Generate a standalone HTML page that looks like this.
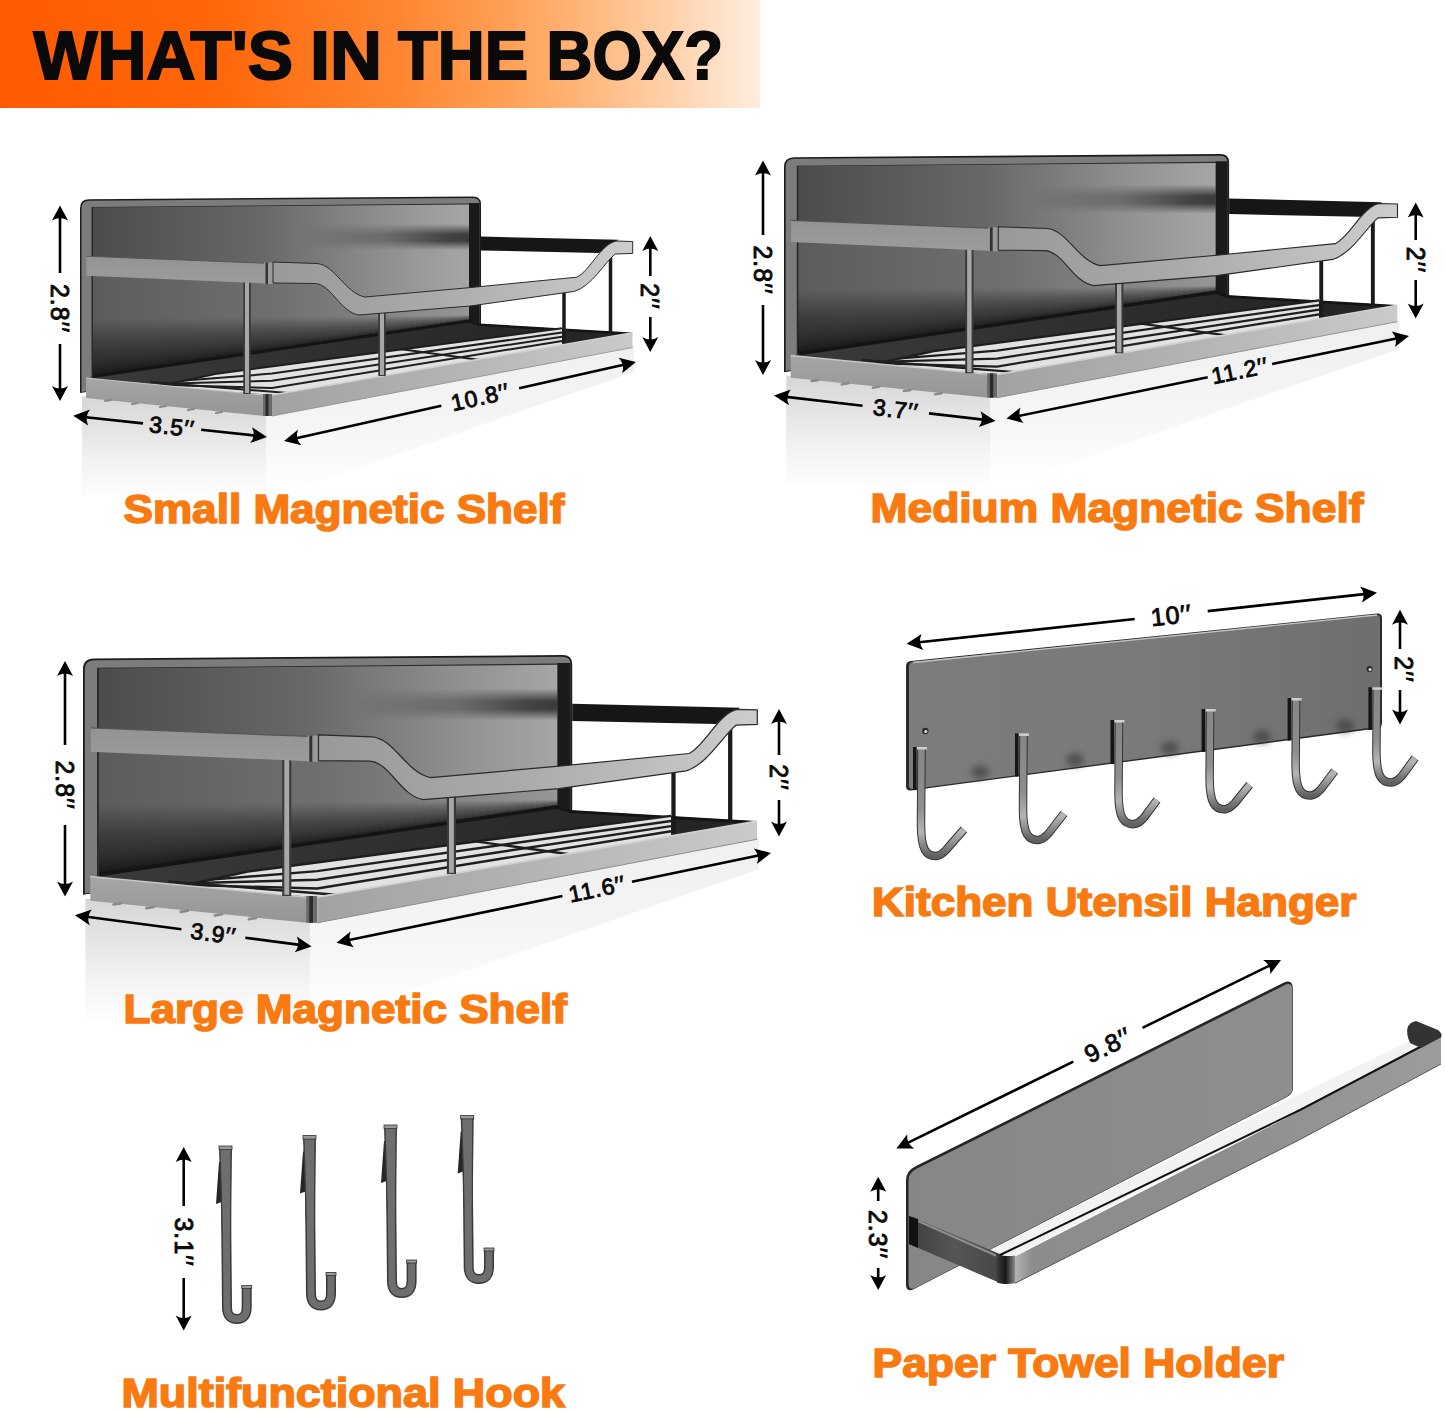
<!DOCTYPE html>
<html><head><meta charset="utf-8">
<style>
html,body{margin:0;padding:0;background:#fff;width:1445px;height:1412px;overflow:hidden}
svg{position:absolute;left:0;top:0;display:block}
.hdr{font-family:"Liberation Sans",sans-serif;font-weight:bold;font-size:68px;fill:#0a0a0a;stroke:#0a0a0a;stroke-width:2px}
.lbl{font-family:"Liberation Sans",sans-serif;font-weight:bold;font-size:41px;fill:#f97a10;stroke:#f97a10;stroke-width:1.6px}
.dim{font-family:"Liberation Sans",sans-serif;font-weight:normal;fill:#0a0a0a;stroke:#0a0a0a;stroke-width:0.9px;letter-spacing:1px}
</style></head>
<body>
<svg width="1445" height="1412" viewBox="0 0 1445 1412">

<defs>
  <linearGradient id="hdr" x1="0" x2="1" y1="0" y2="0">
    <stop offset="0" stop-color="#ff5a00"/>
    <stop offset="0.276" stop-color="#ff6608"/>
    <stop offset="0.526" stop-color="#fe8631"/>
    <stop offset="0.671" stop-color="#ffa156"/>
    <stop offset="0.803" stop-color="#ffbe88"/>
    <stop offset="0.98" stop-color="#fee8d6"/>
    <stop offset="1" stop-color="#feecdf"/>
  </linearGradient>
  <linearGradient id="bpg" x1="93" x2="469" y1="0" y2="0" gradientUnits="userSpaceOnUse">
    <stop offset="0" stop-color="#4c4c4c"/>
    <stop offset="0.45" stop-color="#686868"/>
    <stop offset="0.8" stop-color="#929292"/>
    <stop offset="1" stop-color="#a6a6a6"/>
  </linearGradient>
  <linearGradient id="bpgl" x1="93" x2="469" y1="0" y2="0" gradientUnits="userSpaceOnUse">
    <stop offset="0" stop-color="#5c5c5c"/>
    <stop offset="0.5" stop-color="#707070"/>
    <stop offset="1" stop-color="#969696"/>
  </linearGradient>
  <linearGradient id="shadowband" x1="0" x2="1" y1="0" y2="0">
    <stop offset="0" stop-color="#2a2a2a" stop-opacity="0"/>
    <stop offset="0.5" stop-color="#2a2a2a" stop-opacity="0.8"/>
    <stop offset="1" stop-color="#1e1e1e" stop-opacity="1"/>
  </linearGradient>
  <linearGradient id="trayside" x1="0" x2="0" y1="0" y2="1">
    <stop offset="0" stop-color="#a6a6a6"/>
    <stop offset="1" stop-color="#959595"/>
  </linearGradient>
  <linearGradient id="trayfront" x1="0" x2="1" y1="0" y2="0">
    <stop offset="0" stop-color="#a2a2a2"/>
    <stop offset="0.4" stop-color="#b0b0b0"/>
    <stop offset="1" stop-color="#cacaca"/>
  </linearGradient>
  <linearGradient id="railside" x1="0" x2="0" y1="0" y2="1">
    <stop offset="0" stop-color="#939393"/>
    <stop offset="1" stop-color="#9c9c9c"/>
  </linearGradient>
  <linearGradient id="railfront" x1="0" x2="1" y1="0" y2="0">
    <stop offset="0" stop-color="#999999"/>
    <stop offset="0.45" stop-color="#aaaaaa"/>
    <stop offset="1" stop-color="#cdcdcd"/>
  </linearGradient>
  <linearGradient id="hookg" x1="0" x2="1" y1="0" y2="0">
    <stop offset="0" stop-color="#3a3a3a"/>
    <stop offset="0.4" stop-color="#8a8a8a"/>
    <stop offset="1" stop-color="#5a5a5a"/>
  </linearGradient>
  <linearGradient id="hangerg" x1="0" x2="1" y1="0" y2="0">
    <stop offset="0" stop-color="#7c7c7c"/>
    <stop offset="0.5" stop-color="#7a7a7a"/>
    <stop offset="1" stop-color="#6e6e6e"/>
  </linearGradient>
  <linearGradient id="hookg2" x1="0" x2="0" y1="0" y2="1" gradientUnits="objectBoundingBox">
    <stop offset="0" stop-color="#868686"/>
    <stop offset="0.55" stop-color="#8e8e8e"/>
    <stop offset="0.78" stop-color="#b4b4b4"/>
    <stop offset="1" stop-color="#606060"/>
  </linearGradient>
  <linearGradient id="ptplate" x1="0" x2="1" y1="0" y2="0">
    <stop offset="0" stop-color="#868686"/>
    <stop offset="1" stop-color="#8e8e8e"/>
  </linearGradient>
  <linearGradient id="ptbracket" x1="0" x2="1" y1="0" y2="0">
    <stop offset="0" stop-color="#3e3e3e"/>
    <stop offset="0.5" stop-color="#555"/>
    <stop offset="1" stop-color="#474747"/>
  </linearGradient>
  <linearGradient id="ptbar" x1="0" x2="1" y1="0" y2="0">
    <stop offset="0" stop-color="#b4b4b4"/>
    <stop offset="0.04" stop-color="#8c8c8c"/>
    <stop offset="0.5" stop-color="#8e8e8e"/>
    <stop offset="1" stop-color="#9c9c9c"/>
  </linearGradient>
  <linearGradient id="ptcorner" x1="0" x2="1" y1="0" y2="0">
    <stop offset="0" stop-color="#404040"/>
    <stop offset="0.5" stop-color="#181818"/>
    <stop offset="1" stop-color="#8a8a8a"/>
  </linearGradient>
  <linearGradient id="reflL" x1="0" x2="0" y1="400" y2="500" gradientUnits="userSpaceOnUse">
    <stop offset="0" stop-color="#d8d8d8"/>
    <stop offset="0.3" stop-color="#e4e4e4"/>
    <stop offset="0.6" stop-color="#f2f2f2"/>
    <stop offset="1" stop-color="#ffffff"/>
  </linearGradient>
  <linearGradient id="reflF" x1="0" x2="0" y1="350" y2="490" gradientUnits="userSpaceOnUse">
    <stop offset="0" stop-color="#f0f0f0"/>
    <stop offset="0.45" stop-color="#f4f4f4"/>
    <stop offset="0.75" stop-color="#f9f9f9"/>
    <stop offset="1" stop-color="#ffffff"/>
  </linearGradient>
  <linearGradient id="refl" x1="0" x2="0" y1="0" y2="1">
    <stop offset="0" stop-color="#e8e8e8" stop-opacity="0.7"/>
    <stop offset="0.3" stop-color="#f0f0f0" stop-opacity="0.3"/>
    <stop offset="1" stop-color="#f8f8f8" stop-opacity="0"/>
  </linearGradient>
  <linearGradient id="bpfloor" x1="273" y1="292" x2="281" y2="352.5" gradientUnits="userSpaceOnUse">
    <stop offset="0" stop-color="#000" stop-opacity="0"/>
    <stop offset="0.417" stop-color="#000" stop-opacity="0.15"/>
    <stop offset="0.717" stop-color="#000" stop-opacity="0.5"/>
    <stop offset="0.917" stop-color="#000" stop-opacity="0.75"/>
    <stop offset="1" stop-color="#000" stop-opacity="0.8"/>
  </linearGradient>
  <linearGradient id="wedgeg" x1="0" x2="0" y1="0" y2="1">
    <stop offset="0" stop-color="#000" stop-opacity="0"/>
    <stop offset="0.08" stop-color="#000" stop-opacity="0.05"/>
    <stop offset="0.2" stop-color="#000" stop-opacity="0.15"/>
    <stop offset="0.45" stop-color="#000" stop-opacity="0.34"/>
    <stop offset="0.73" stop-color="#000" stop-opacity="0.5"/>
    <stop offset="0.88" stop-color="#000" stop-opacity="0.62"/>
    <stop offset="1" stop-color="#000" stop-opacity="0.75"/>
  </linearGradient>
  <linearGradient id="floorg" x1="93" x2="632" y1="0" y2="0" gradientUnits="userSpaceOnUse">
    <stop offset="0" stop-color="#3a3a3a"/>
    <stop offset="1" stop-color="#222222"/>
  </linearGradient>
  <linearGradient id="bphl" x1="0" x2="1" y1="0" y2="0">
    <stop offset="0" stop-color="#fff" stop-opacity="0"/>
    <stop offset="0.4" stop-color="#fff" stop-opacity="0.02"/>
    <stop offset="1" stop-color="#fff" stop-opacity="0.2"/>
  </linearGradient>
  <linearGradient id="shadowv" x1="0" x2="0" y1="0" y2="1">
    <stop offset="0" stop-color="#202020" stop-opacity="0"/>
    <stop offset="0.4" stop-color="#202020" stop-opacity="0.8"/>
    <stop offset="0.65" stop-color="#202020" stop-opacity="0.8"/>
    <stop offset="1" stop-color="#202020" stop-opacity="0"/>
  </linearGradient>
  <linearGradient id="fadehg" x1="0" x2="1" y1="0" y2="0">
    <stop offset="0" stop-color="#fff" stop-opacity="0"/>
    <stop offset="0.5" stop-color="#fff" stop-opacity="0.4"/>
    <stop offset="0.85" stop-color="#fff" stop-opacity="0.9"/>
    <stop offset="1" stop-color="#fff" stop-opacity="1"/>
  </linearGradient>
  <mask id="fadeh" maskContentUnits="userSpaceOnUse"><rect x="300" y="220" width="170" height="40" fill="url(#fadehg)"/></mask>
  <filter id="blur2" x="-10%" y="-100%" width="120%" height="300%"><feGaussianBlur stdDeviation="2.5"/></filter>
  <filter id="blur3" x="-50%" y="-50%" width="200%" height="200%"><feGaussianBlur stdDeviation="3"/></filter>
</defs>

<rect width="1445" height="1412" fill="#ffffff"/>
<rect x="0" y="0" width="760" height="108" fill="url(#hdr)"/>
<text x="33.5" y="78.6" class="hdr" textLength="259.5" lengthAdjust="spacingAndGlyphs">WHAT&#39;S</text>
<text x="310" y="78.6" class="hdr" textLength="72" lengthAdjust="spacingAndGlyphs">IN</text>
<text x="398" y="78.6" class="hdr" textLength="130" lengthAdjust="spacingAndGlyphs">THE</text>
<text x="546.5" y="78.6" class="hdr" textLength="176.5" lengthAdjust="spacingAndGlyphs">BOX?</text>

<g id="shelf">
  <path d="M82,396 L266,416 L266,505 L82,495 Z" fill="url(#reflL)"/>
  <path d="M266,416 L634,346 L634,372 L266,500 Z" fill="url(#reflF)"/>
  <!-- back panel -->
  <path d="M80,393 L80,208 Q80,199.5 89,199.3 L473,196.5 Q481,196.5 481,204 L481,332 Z" fill="#1c1c1c"/>
  <path d="M81.5,392 L81.5,208 Q81.5,201 89,200.8 L473,198 Q479.5,198 479.5,204 L479.5,332 Z" fill="#7c7c7c"/>
  <path d="M91.5,390 L91.5,207 L470,203.5 L470,331 Z" fill="#2a2a2a"/>
  <path d="M93,270 L93,207.5 L469,204.5 L469,296 L362,302 L317,275 L273,274 Z" fill="url(#bpg)"/>
  <path d="M93,380 L93,268 L273,272 L317,273 L362,300 L469,294 L469,324 Z" fill="url(#bpgl)"/>
<g shape-rendering="crispEdges" fill="url(#wedgeg)">
  <path d="M93.00,376.00 L98.88,375.12 L98.88,317.95 L93.00,318.00 Z"/>
  <path d="M98.88,375.12 L104.75,374.25 L104.75,317.91 L98.88,317.95 Z"/>
  <path d="M104.75,374.25 L110.62,373.38 L110.62,317.86 L104.75,317.91 Z"/>
  <path d="M110.62,373.38 L116.50,372.50 L116.50,317.81 L110.62,317.86 Z"/>
  <path d="M116.50,372.50 L122.38,371.62 L122.38,317.77 L116.50,317.81 Z"/>
  <path d="M122.38,371.62 L128.25,370.75 L128.25,317.72 L122.38,317.77 Z"/>
  <path d="M128.25,370.75 L134.12,369.88 L134.12,317.67 L128.25,317.72 Z"/>
  <path d="M134.12,369.88 L140.00,369.00 L140.00,317.62 L134.12,317.67 Z"/>
  <path d="M140.00,369.00 L145.88,368.12 L145.88,317.58 L140.00,317.62 Z"/>
  <path d="M145.88,368.12 L151.75,367.25 L151.75,317.53 L145.88,317.58 Z"/>
  <path d="M151.75,367.25 L157.62,366.38 L157.62,317.48 L151.75,317.53 Z"/>
  <path d="M157.62,366.38 L163.50,365.50 L163.50,317.44 L157.62,317.48 Z"/>
  <path d="M163.50,365.50 L169.38,364.62 L169.38,317.39 L163.50,317.44 Z"/>
  <path d="M169.38,364.62 L175.25,363.75 L175.25,317.34 L169.38,317.39 Z"/>
  <path d="M175.25,363.75 L181.12,362.88 L181.12,317.30 L175.25,317.34 Z"/>
  <path d="M181.12,362.88 L187.00,362.00 L187.00,317.25 L181.12,317.30 Z"/>
  <path d="M187.00,362.00 L192.88,361.12 L192.88,317.20 L187.00,317.25 Z"/>
  <path d="M192.88,361.12 L198.75,360.25 L198.75,317.16 L192.88,317.20 Z"/>
  <path d="M198.75,360.25 L204.62,359.38 L204.62,317.11 L198.75,317.16 Z"/>
  <path d="M204.62,359.38 L210.50,358.50 L210.50,317.06 L204.62,317.11 Z"/>
  <path d="M210.50,358.50 L216.38,357.62 L216.38,317.02 L210.50,317.06 Z"/>
  <path d="M216.38,357.62 L222.25,356.75 L222.25,316.97 L216.38,317.02 Z"/>
  <path d="M222.25,356.75 L228.12,355.88 L228.12,316.92 L222.25,316.97 Z"/>
  <path d="M228.12,355.88 L234.00,355.00 L234.00,316.88 L228.12,316.92 Z"/>
  <path d="M234.00,355.00 L239.88,354.12 L239.88,316.83 L234.00,316.88 Z"/>
  <path d="M239.88,354.12 L245.75,353.25 L245.75,316.78 L239.88,316.83 Z"/>
  <path d="M245.75,353.25 L251.62,352.38 L251.62,316.73 L245.75,316.78 Z"/>
  <path d="M251.62,352.38 L257.50,351.50 L257.50,316.69 L251.62,316.73 Z"/>
  <path d="M257.50,351.50 L263.38,350.62 L263.38,316.64 L257.50,316.69 Z"/>
  <path d="M263.38,350.62 L269.25,349.75 L269.25,316.59 L263.38,316.64 Z"/>
  <path d="M269.25,349.75 L275.12,348.88 L275.12,316.55 L269.25,316.59 Z"/>
  <path d="M275.12,348.88 L281.00,348.00 L281.00,316.50 L275.12,316.55 Z"/>
  <path d="M281.00,348.00 L286.88,347.12 L286.88,316.45 L281.00,316.50 Z"/>
  <path d="M286.88,347.12 L292.75,346.25 L292.75,316.41 L286.88,316.45 Z"/>
  <path d="M292.75,346.25 L298.62,345.38 L298.62,316.36 L292.75,316.41 Z"/>
  <path d="M298.62,345.38 L304.50,344.50 L304.50,316.31 L298.62,316.36 Z"/>
  <path d="M304.50,344.50 L310.38,343.62 L310.38,316.27 L304.50,316.31 Z"/>
  <path d="M310.38,343.62 L316.25,342.75 L316.25,316.22 L310.38,316.27 Z"/>
  <path d="M316.25,342.75 L322.12,341.88 L322.12,316.17 L316.25,316.22 Z"/>
  <path d="M322.12,341.88 L328.00,341.00 L328.00,316.12 L322.12,316.17 Z"/>
  <path d="M328.00,341.00 L333.88,340.12 L333.88,316.08 L328.00,316.12 Z"/>
  <path d="M333.88,340.12 L339.75,339.25 L339.75,316.03 L333.88,316.08 Z"/>
  <path d="M339.75,339.25 L345.62,338.38 L345.62,315.98 L339.75,316.03 Z"/>
  <path d="M345.62,338.38 L351.50,337.50 L351.50,315.94 L345.62,315.98 Z"/>
  <path d="M351.50,337.50 L357.38,336.62 L357.38,315.89 L351.50,315.94 Z"/>
  <path d="M357.38,336.62 L363.25,335.75 L363.25,315.84 L357.38,315.89 Z"/>
  <path d="M363.25,335.75 L369.12,334.88 L369.12,315.80 L363.25,315.84 Z"/>
  <path d="M369.12,334.88 L375.00,334.00 L375.00,315.75 L369.12,315.80 Z"/>
  <path d="M375.00,334.00 L380.88,333.12 L380.88,315.70 L375.00,315.75 Z"/>
  <path d="M380.88,333.12 L386.75,332.25 L386.75,315.66 L380.88,315.70 Z"/>
  <path d="M386.75,332.25 L392.62,331.38 L392.62,315.61 L386.75,315.66 Z"/>
  <path d="M392.62,331.38 L398.50,330.50 L398.50,315.56 L392.62,315.61 Z"/>
  <path d="M398.50,330.50 L404.38,329.62 L404.38,315.52 L398.50,315.56 Z"/>
  <path d="M404.38,329.62 L410.25,328.75 L410.25,315.47 L404.38,315.52 Z"/>
  <path d="M410.25,328.75 L416.12,327.88 L416.12,315.42 L410.25,315.47 Z"/>
  <path d="M416.12,327.88 L422.00,327.00 L422.00,315.38 L416.12,315.42 Z"/>
  <path d="M422.00,327.00 L427.88,326.12 L427.88,315.33 L422.00,315.38 Z"/>
  <path d="M427.88,326.12 L433.75,325.25 L433.75,315.28 L427.88,315.33 Z"/>
  <path d="M433.75,325.25 L439.62,324.38 L439.62,315.23 L433.75,315.28 Z"/>
  <path d="M439.62,324.38 L445.50,323.50 L445.50,315.19 L439.62,315.23 Z"/>
  <path d="M445.50,323.50 L451.38,322.62 L451.38,315.14 L445.50,315.19 Z"/>
  <path d="M451.38,322.62 L457.25,321.75 L457.25,315.09 L451.38,315.14 Z"/>
  <path d="M457.25,321.75 L463.12,320.88 L463.12,315.05 L457.25,315.09 Z"/>
  <path d="M463.12,320.88 L469.00,320.00 L469.00,315.00 L463.12,315.05 Z"/>
  </g>
  <rect x="300" y="224" width="169" height="26" fill="url(#shadowv)" mask="url(#fadeh)"/>
  <rect x="469" y="203" width="10.5" height="128" fill="#1a1a1a"/>
  <!-- floor -->
  <path d="M88,379 L93,376 L469,320 L479,324 L632,333 L264,396 Z" fill="url(#floorg)"/>
  <path d="M93,375 L469,319.5 L479,323.5 L632,332.5 L632,335 L479,326 L469,322.5 L93,378 Z" fill="#141414"/>
  <!-- wires -->
  <path d="M160.0,386.0 L215,374 L562,328.3 L562,345.1 L272,395 Z" fill="#e2e2e2"/>
  <g stroke="#1e1e1e" stroke-width="2.0" fill="none">
    <polyline points="164.6,385.0 272.0,387.9 562.0,340.9"/>
    <polyline points="171.8,383.4 272.0,380.7 562.0,336.7"/>
    <polyline points="184.8,380.6 272.0,373.6 562.0,332.5"/>
    <line x1="160.0" y1="386.0" x2="215" y2="374"/>
    <line x1="215" y1="374" x2="562" y2="328.3"/>
    <line x1="150" y1="382" x2="300" y2="394"/>
    <line x1="400" y1="349" x2="480" y2="360"/>
  </g>
  <!-- rear rail -->
  <path d="M481,236.5 L618.6,239.8 L599,253 L481,250.5 Z" fill="#161616"/>
  <!-- tray left side -->
  <path d="M86,378 L264,395 L264,416 L86,398 Z" fill="url(#trayside)"/>
  <path d="M86,378 L264,395" stroke="#c8c8c8" stroke-width="1.2"/>
  <rect x="263" y="394" width="9" height="22" fill="#6a6a6a"/>
  <rect x="265.5" y="394" width="3" height="22" fill="#2a2a2a"/>
  <!-- tray front -->
  <path d="M272,395 L632.5,332.7 L632.5,347.5 L272,416 Z" fill="url(#trayfront)"/>
  <path d="M272,395 L632.5,332.7" stroke="#d0d0d0" stroke-width="1.5"/>
  <path d="M272,416 L632.5,347.5" stroke="#8a8a8a" stroke-width="0.8"/>
  <!-- feet -->
  <g stroke="#8a8a8a" stroke-width="2.2" stroke-linecap="round">
    <line x1="105" y1="401" x2="111" y2="400"/><line x1="132" y1="404" x2="138" y2="403"/><line x1="160" y1="407" x2="166" y2="406"/>
    <line x1="188" y1="410" x2="194" y2="409"/><line x1="216" y1="413" x2="222" y2="412"/>
  </g>
  <!-- posts -->
  <g stroke="#3a3a3a" stroke-width="7.5">
    <line x1="247" y1="282" x2="247" y2="394"/>
    <line x1="382" y1="312" x2="382" y2="376"/>
  </g>
  <g stroke="#a8a8a8" stroke-width="4">
    <line x1="247" y1="282" x2="247" y2="393"/>
    <line x1="382" y1="312" x2="382" y2="375"/>
  </g>
  <g stroke="#1a1a1a" stroke-width="3.5">
    <line x1="564" y1="292" x2="564" y2="343"/>
    <line x1="610.5" y1="257" x2="610.5" y2="334"/>
  </g>
  <!-- front rail left side -->
  <path d="M86.4,256.2 L265,263.2 L265,283.5 L86.4,275.7 Z" fill="url(#railside)"/>
  <path d="M86.4,256.2 L265,263.2" stroke="#555" stroke-width="1"/>
  <rect x="264" y="262.5" width="9" height="21.5" fill="#9a9a9a"/>
  <rect x="265.5" y="262.5" width="2.5" height="21.5" fill="#333"/>
  <!-- front rail with dip -->
  <path d="M273,262 L317,263.5 C335,265 345,293 365,297 L470,287.6 L576.7,277.2 C590,271 600,245 616,241 L632.7,241.5 L632.7,253.4 L615.2,254 C605,262 592,286 574.4,291.4 L470,306 L359,315 C340,312 332,285 315.4,283.5 L273,283 Z" fill="url(#railfront)" stroke="#2a2a2a" stroke-width="1"/>
</g>

<use href="#shelf" transform="translate(784,157.4) scale(1.11) translate(-80,-199.5)"/>
<use href="#shelf" transform="translate(83,658.7) scale(1.22) translate(-80,-199.5)"/>
<path d="M60,205.5 L52,220.5 Q60,215.5 68,220.5 Z" fill="#000"/>
<path d="M60,401 L52,386 Q60,391 68,386 Z" fill="#000"/>
<line x1="60" y1="213.5" x2="60" y2="273" stroke="#000" stroke-width="2.6"/>
<line x1="60" y1="344" x2="60" y2="393" stroke="#000" stroke-width="2.6"/>
<text x="0" y="0" transform="translate(60,308.5) rotate(90)" class="dim" font-size="25" text-anchor="middle" dominant-baseline="central">2.8&#8242;&#8242;</text>
<path d="M650.3,236 L642.3,251 Q650.3,246 658.3,251 Z" fill="#000"/>
<path d="M650.3,352 L642.3,337 Q650.3,342 658.3,337 Z" fill="#000"/>
<line x1="650.3" y1="244" x2="650.3" y2="276" stroke="#000" stroke-width="2.6"/>
<line x1="650.3" y1="317" x2="650.3" y2="344" stroke="#000" stroke-width="2.6"/>
<text x="0" y="0" transform="translate(650.3,296.5) rotate(90)" class="dim" font-size="25" text-anchor="middle" dominant-baseline="central">2&#8242;&#8242;</text>
<path d="M73.2,415.8 L88.2,425.5 Q84.1,417.0 90.0,409.6 Z" fill="#000"/>
<path d="M267.0,436.9 L250.2,443.1 Q256.1,435.7 252.0,427.2 Z" fill="#000"/>
<line x1="81.2" y1="416.7" x2="143.0" y2="423.4" stroke="#000" stroke-width="2.6"/>
<line x1="201.1" y1="429.7" x2="259.0" y2="436.0" stroke="#000" stroke-width="2.6"/>
<text x="0" y="0" transform="translate(172.0,426.6) rotate(6.21)" class="dim" font-size="23" text-anchor="middle" dominant-baseline="central">3.5&#8242;&#8242;</text>
<path d="M284.0,441.0 L301.4,445.3 Q294.7,438.6 297.9,429.7 Z" fill="#000"/>
<path d="M636.0,362.0 L622.1,373.3 Q625.3,364.4 618.6,357.7 Z" fill="#000"/>
<line x1="291.8" y1="439.2" x2="441.3" y2="405.7" stroke="#000" stroke-width="2.6"/>
<line x1="519.1" y1="388.2" x2="628.2" y2="363.8" stroke="#000" stroke-width="2.6"/>
<text x="0" y="0" transform="translate(480.2,397.0) rotate(-12.65)" class="dim" font-size="23" text-anchor="middle" dominant-baseline="central">10.8&#8242;&#8242;</text>
<path d="M763,160.6 L755,175.6 Q763,170.6 771,175.6 Z" fill="#000"/>
<path d="M763,375 L755,360 Q763,365 771,360 Z" fill="#000"/>
<line x1="763" y1="168.6" x2="763" y2="235" stroke="#000" stroke-width="2.6"/>
<line x1="763" y1="305" x2="763" y2="367" stroke="#000" stroke-width="2.6"/>
<text x="0" y="0" transform="translate(763,270.0) rotate(90)" class="dim" font-size="25" text-anchor="middle" dominant-baseline="central">2.8&#8242;&#8242;</text>
<path d="M1415.7,202.6 L1407.7,217.6 Q1415.7,212.6 1423.7,217.6 Z" fill="#000"/>
<path d="M1415.7,318.5 L1407.7,303.5 Q1415.7,308.5 1423.7,303.5 Z" fill="#000"/>
<line x1="1415.7" y1="210.6" x2="1415.7" y2="240" stroke="#000" stroke-width="2.6"/>
<line x1="1415.7" y1="280" x2="1415.7" y2="310.5" stroke="#000" stroke-width="2.6"/>
<text x="0" y="0" transform="translate(1415.7,260.0) rotate(90)" class="dim" font-size="25" text-anchor="middle" dominant-baseline="central">2&#8242;&#8242;</text>
<path d="M774.0,395.5 L789.0,405.3 Q784.9,396.8 790.8,389.4 Z" fill="#000"/>
<path d="M995.5,421.0 L978.7,427.1 Q984.6,419.7 980.5,411.2 Z" fill="#000"/>
<line x1="781.9" y1="396.4" x2="862.6" y2="405.7" stroke="#000" stroke-width="2.6"/>
<line x1="929.0" y1="413.4" x2="987.6" y2="420.1" stroke="#000" stroke-width="2.6"/>
<text x="0" y="0" transform="translate(895.8,409.5) rotate(6.57)" class="dim" font-size="23" text-anchor="middle" dominant-baseline="central">3.7&#8242;&#8242;</text>
<path d="M1006.4,418.5 L1023.7,423.1 Q1017.2,416.3 1020.5,407.5 Z" fill="#000"/>
<path d="M1409.0,336.0 L1394.9,347.0 Q1398.2,338.2 1391.7,331.4 Z" fill="#000"/>
<line x1="1014.2" y1="416.9" x2="1207.7" y2="377.2" stroke="#000" stroke-width="2.6"/>
<line x1="1272.1" y1="364.1" x2="1401.2" y2="337.6" stroke="#000" stroke-width="2.6"/>
<text x="0" y="0" transform="translate(1239.9,370.6) rotate(-11.58)" class="dim" font-size="23" text-anchor="middle" dominant-baseline="central">11.2&#8242;&#8242;</text>
<path d="M65,661 L57,676 Q65,671 73,676 Z" fill="#000"/>
<path d="M65,896.6 L57,881.6 Q65,886.6 73,881.6 Z" fill="#000"/>
<line x1="65" y1="669" x2="65" y2="745" stroke="#000" stroke-width="2.6"/>
<line x1="65" y1="825" x2="65" y2="888.6" stroke="#000" stroke-width="2.6"/>
<text x="0" y="0" transform="translate(65,785.0) rotate(90)" class="dim" font-size="25" text-anchor="middle" dominant-baseline="central">2.8&#8242;&#8242;</text>
<path d="M779,709 L771,724 Q779,719 787,724 Z" fill="#000"/>
<path d="M779,836.5 L771,821.5 Q779,826.5 787,821.5 Z" fill="#000"/>
<line x1="779" y1="717" x2="779" y2="755" stroke="#000" stroke-width="2.6"/>
<line x1="779" y1="800" x2="779" y2="828.5" stroke="#000" stroke-width="2.6"/>
<text x="0" y="0" transform="translate(779,777.5) rotate(90)" class="dim" font-size="25" text-anchor="middle" dominant-baseline="central">2&#8242;&#8242;</text>
<path d="M74.9,915.3 L89.7,925.3 Q85.8,916.7 91.8,909.5 Z" fill="#000"/>
<path d="M311.6,946.4 L294.7,952.2 Q300.7,945.0 296.8,936.4 Z" fill="#000"/>
<line x1="82.8" y1="916.3" x2="181.4" y2="929.3" stroke="#000" stroke-width="2.6"/>
<line x1="245.3" y1="937.7" x2="303.7" y2="945.4" stroke="#000" stroke-width="2.6"/>
<text x="0" y="0" transform="translate(213.4,933.5) rotate(7.49)" class="dim" font-size="23" text-anchor="middle" dominant-baseline="central">3.9&#8242;&#8242;</text>
<path d="M336.5,942.7 L353.8,947.3 Q347.3,940.5 350.6,931.6 Z" fill="#000"/>
<path d="M771.0,853.0 L756.9,864.1 Q760.2,855.2 753.7,848.4 Z" fill="#000"/>
<line x1="344.3" y1="941.1" x2="562.4" y2="896.1" stroke="#000" stroke-width="2.6"/>
<line x1="632.0" y1="881.7" x2="763.2" y2="854.6" stroke="#000" stroke-width="2.6"/>
<text x="0" y="0" transform="translate(597.2,888.9) rotate(-11.66)" class="dim" font-size="23" text-anchor="middle" dominant-baseline="central">11.6&#8242;&#8242;</text>
<path d="M911,661 L1377,613.5 Q1382,613 1382,618 L1382,723 Q1382,728 1377,728.5 L911,790.5 Q906,791 906,786 L906,666 Q906,661.5 911,661 Z" fill="#2a2a2a"/>
<path d="M913,662 L1377,615 Q1380,615 1380,619 L1380,723 Q1380,726.5 1376,727 L913,789 Q909,789.5 909,785 L909,667 Q909,662.5 913,662 Z" fill="url(#hangerg)"/>
<ellipse cx="980" cy="772" rx="9" ry="7" fill="#333" opacity="0.55" filter="url(#blur3)"/>
<ellipse cx="1075" cy="760" rx="9" ry="7" fill="#333" opacity="0.55" filter="url(#blur3)"/>
<ellipse cx="1170" cy="748" rx="9" ry="7" fill="#333" opacity="0.55" filter="url(#blur3)"/>
<ellipse cx="1262" cy="737" rx="9" ry="7" fill="#333" opacity="0.55" filter="url(#blur3)"/>
<ellipse cx="1345" cy="726" rx="9" ry="7" fill="#333" opacity="0.55" filter="url(#blur3)"/>
<rect x="913" y="747" width="3.5" height="43.07600000000002" fill="#151515"/>
<path d="M921.5,748 L921.0,824.4 C921.0,850.4 926.5,856.4 936.5,855.9 C941.5,855.4 943.5,852.4 946.5,849.4 L964,829.4" fill="none" stroke="#333333" stroke-width="8.5" stroke-linejoin="round"/>
<path d="M921.5,748 L921.0,824.4 C921.0,850.4 926.5,856.4 936.5,855.9 C941.5,855.4 943.5,852.4 946.5,849.4 L964,829.4" fill="none" stroke="url(#hookg2)" stroke-width="6.5" stroke-linejoin="round"/>
<rect x="917" y="747" width="10" height="2.5" fill="#cfcfcf"/>
<rect x="1015" y="733.4" width="3.5" height="43.21199999999999" fill="#151515"/>
<path d="M1023.5,734.4 L1023.0,808.5 C1023.0,834.5 1028.5,840.5 1038.5,840.0 C1043.5,839.5 1045.5,836.5 1048.5,833.5 L1064,813.5" fill="none" stroke="#333333" stroke-width="8.5" stroke-linejoin="round"/>
<path d="M1023.5,734.4 L1023.0,808.5 C1023.0,834.5 1028.5,840.5 1038.5,840.0 C1043.5,839.5 1045.5,836.5 1048.5,833.5 L1064,813.5" fill="none" stroke="url(#hookg2)" stroke-width="6.5" stroke-linejoin="round"/>
<rect x="1019" y="733.4" width="10" height="2.5" fill="#cfcfcf"/>
<rect x="1110.5" y="720" width="3.5" height="44.00599999999997" fill="#151515"/>
<path d="M1119.0,721 L1118.5,792.6 C1118.5,818.6 1124.0,824.6 1134.0,824.1 C1139.0,823.6 1141.0,820.6 1144.0,817.6 L1157,800" fill="none" stroke="#333333" stroke-width="8.5" stroke-linejoin="round"/>
<path d="M1119.0,721 L1118.5,792.6 C1118.5,818.6 1124.0,824.6 1134.0,824.1 C1139.0,823.6 1141.0,820.6 1144.0,817.6 L1157,800" fill="none" stroke="url(#hookg2)" stroke-width="6.5" stroke-linejoin="round"/>
<rect x="1114.5" y="720" width="10" height="2.5" fill="#cfcfcf"/>
<rect x="1201.6" y="709" width="3.5" height="42.980800000000045" fill="#151515"/>
<path d="M1210.1,710 L1209.6,777.7 C1209.6,803.7 1215.1,809.7 1225.1,809.2 C1230.1,808.7 1232.1,805.7 1235.1,802.7 L1249.6,784.8" fill="none" stroke="#333333" stroke-width="8.5" stroke-linejoin="round"/>
<path d="M1210.1,710 L1209.6,777.7 C1209.6,803.7 1215.1,809.7 1225.1,809.2 C1230.1,808.7 1232.1,805.7 1235.1,802.7 L1249.6,784.8" fill="none" stroke="url(#hookg2)" stroke-width="6.5" stroke-linejoin="round"/>
<rect x="1205.6" y="709" width="10" height="2.5" fill="#cfcfcf"/>
<rect x="1287.6" y="698" width="3.5" height="42.628799999999956" fill="#151515"/>
<path d="M1296.1,699 L1295.6,764 C1295.6,790 1301.1,796 1311.1,795.5 C1316.1,795 1318.1,792 1321.1,789 L1334.6,771" fill="none" stroke="#333333" stroke-width="8.5" stroke-linejoin="round"/>
<path d="M1296.1,699 L1295.6,764 C1295.6,790 1301.1,796 1311.1,795.5 C1316.1,795 1318.1,792 1321.1,789 L1334.6,771" fill="none" stroke="url(#hookg2)" stroke-width="6.5" stroke-linejoin="round"/>
<rect x="1291.6" y="698" width="10" height="2.5" fill="#cfcfcf"/>
<rect x="1368.4" y="687.3" width="3.5" height="42.663200000000074" fill="#151515"/>
<path d="M1376.9,688.3 L1376.4,751 C1376.4,777 1381.9,783 1391.9,782.5 C1396.9,782 1398.9,779 1401.9,776 L1415,758" fill="none" stroke="#333333" stroke-width="8.5" stroke-linejoin="round"/>
<path d="M1376.9,688.3 L1376.4,751 C1376.4,777 1381.9,783 1391.9,782.5 C1396.9,782 1398.9,779 1401.9,776 L1415,758" fill="none" stroke="url(#hookg2)" stroke-width="6.5" stroke-linejoin="round"/>
<rect x="1372.4" y="687.3" width="10" height="2.5" fill="#cfcfcf"/>
<path d="M913,662.5 L1377,615" stroke="#c4c4c4" stroke-width="1.3"/>
<circle cx="925.3" cy="731" r="3.2" fill="#2a2a2a"/><circle cx="925.8" cy="731.5" r="1.6" fill="#dadada"/>
<circle cx="1369.5" cy="669" r="3" fill="#2a2a2a"/><circle cx="1370" cy="669.5" r="1.5" fill="#dadada"/>
<path d="M906.6,643.7 L923.4,649.9 Q917.5,642.5 921.6,634.0 Z" fill="#000"/>
<path d="M1377.0,592.7 L1362.0,602.4 Q1366.1,593.9 1360.2,586.5 Z" fill="#000"/>
<line x1="914.6" y1="642.8" x2="1134.7" y2="619.0" stroke="#000" stroke-width="2.6"/>
<line x1="1207.7" y1="611.1" x2="1369.0" y2="593.6" stroke="#000" stroke-width="2.6"/>
<text x="0" y="0" transform="translate(1171.2,615.0) rotate(-6.19)" class="dim" font-size="25" text-anchor="middle" dominant-baseline="central">10&#8242;&#8242;</text>
<path d="M1400,609.7 L1392,624.7 Q1400,619.7 1408,624.7 Z" fill="#000"/>
<path d="M1400,724.5 L1392,709.5 Q1400,714.5 1408,709.5 Z" fill="#000"/>
<line x1="1400" y1="617.7" x2="1400" y2="649" stroke="#000" stroke-width="2.6"/>
<line x1="1400" y1="690" x2="1400" y2="716.5" stroke="#000" stroke-width="2.6"/>
<text x="0" y="0" transform="translate(1404,669.5) rotate(90)" class="dim" font-size="25" text-anchor="middle" dominant-baseline="central">2&#8242;&#8242;</text>
<path d="M216.0,1204 L219.0,1162 L222.5,1162 L221.5,1202 Z" fill="#262626"/>
<path d="M225.5,1149 L227.0,1307 Q227.0,1319 236.85,1319 Q246.7,1319 246.7,1307 L246.7,1287.6" fill="none" stroke="#3a3a3a" stroke-width="10" stroke-linejoin="round"/>
<path d="M219.0,1148 L232.0,1148 L231.0,1236 L222.0,1236 Z" fill="#3a3a3a"/>
<path d="M220.5,1149 L230.5,1149 L229.8,1236 L223.3,1236 Z" fill="#6e6e6e"/>
<path d="M225.5,1149 L227.0,1307 Q227.0,1319 236.85,1319 Q246.7,1319 246.7,1307 L246.7,1287.6" fill="none" stroke="#6e6e6e" stroke-width="7" stroke-linejoin="round"/>
<rect x="219.0" y="1146" width="13" height="3.5" fill="#9a9a9a" stroke="#333" stroke-width="0.8"/>
<rect x="241.7" y="1285.6" width="10" height="3" fill="#9a9a9a" stroke="#333" stroke-width="0.8"/>
<path d="M300.0,1193.6 L303.0,1151.6 L306.5,1151.6 L305.5,1191.6 Z" fill="#262626"/>
<path d="M309.5,1138.6 L311.0,1293.5 Q311.0,1305.5 321.0,1305.5 Q331,1305.5 331,1293.5 L331,1274.4" fill="none" stroke="#3a3a3a" stroke-width="10" stroke-linejoin="round"/>
<path d="M303.0,1137.6 L316.0,1137.6 L315.0,1225.6 L306.0,1225.6 Z" fill="#3a3a3a"/>
<path d="M304.5,1138.6 L314.5,1138.6 L313.8,1225.6 L307.3,1225.6 Z" fill="#6e6e6e"/>
<path d="M309.5,1138.6 L311.0,1293.5 Q311.0,1305.5 321.0,1305.5 Q331,1305.5 331,1293.5 L331,1274.4" fill="none" stroke="#6e6e6e" stroke-width="7" stroke-linejoin="round"/>
<rect x="303.0" y="1135.6" width="13" height="3.5" fill="#9a9a9a" stroke="#333" stroke-width="0.8"/>
<rect x="326" y="1272.4" width="10" height="3" fill="#9a9a9a" stroke="#333" stroke-width="0.8"/>
<path d="M381.0,1183 L384.0,1141 L387.5,1141 L386.5,1181 Z" fill="#262626"/>
<path d="M390.5,1128 L392.0,1281 Q392.0,1293 401.8,1293 Q411.6,1293 411.6,1281 L411.6,1262" fill="none" stroke="#3a3a3a" stroke-width="10" stroke-linejoin="round"/>
<path d="M384.0,1127 L397.0,1127 L396.0,1215 L387.0,1215 Z" fill="#3a3a3a"/>
<path d="M385.5,1128 L395.5,1128 L394.8,1215 L388.3,1215 Z" fill="#6e6e6e"/>
<path d="M390.5,1128 L392.0,1281 Q392.0,1293 401.8,1293 Q411.6,1293 411.6,1281 L411.6,1262" fill="none" stroke="#6e6e6e" stroke-width="7" stroke-linejoin="round"/>
<rect x="384.0" y="1125" width="13" height="3.5" fill="#9a9a9a" stroke="#333" stroke-width="0.8"/>
<rect x="406.6" y="1260" width="10" height="3" fill="#9a9a9a" stroke="#333" stroke-width="0.8"/>
<path d="M457.7,1173.4 L460.7,1131.4 L464.2,1131.4 L463.2,1171.4 Z" fill="#262626"/>
<path d="M467.2,1118.4 L468.7,1267 Q468.7,1279 478.85,1279 Q489,1279 489,1267 L489,1250" fill="none" stroke="#3a3a3a" stroke-width="10" stroke-linejoin="round"/>
<path d="M460.7,1117.4 L473.7,1117.4 L472.7,1205.4 L463.7,1205.4 Z" fill="#3a3a3a"/>
<path d="M462.2,1118.4 L472.2,1118.4 L471.5,1205.4 L465.0,1205.4 Z" fill="#6e6e6e"/>
<path d="M467.2,1118.4 L468.7,1267 Q468.7,1279 478.85,1279 Q489,1279 489,1267 L489,1250" fill="none" stroke="#6e6e6e" stroke-width="7" stroke-linejoin="round"/>
<rect x="460.7" y="1115.4" width="13" height="3.5" fill="#9a9a9a" stroke="#333" stroke-width="0.8"/>
<rect x="484" y="1248" width="10" height="3" fill="#9a9a9a" stroke="#333" stroke-width="0.8"/>
<path d="M183.7,1147 L175.7,1162 Q183.7,1157 191.7,1162 Z" fill="#000"/>
<path d="M183.7,1330.4 L175.7,1315.4 Q183.7,1320.4 191.7,1315.4 Z" fill="#000"/>
<line x1="183.7" y1="1155" x2="183.7" y2="1206" stroke="#000" stroke-width="2.6"/>
<line x1="183.7" y1="1278" x2="183.7" y2="1322.4" stroke="#000" stroke-width="2.6"/>
<text x="0" y="0" transform="translate(183.7,1242.0) rotate(90)" class="dim" font-size="25" text-anchor="middle" dominant-baseline="central">3.1&#8242;&#8242;</text>
<path d="M916,1166 L1283,983 Q1293,978 1293,990 L1293,1088 Q1293,1094 1285,1098 L914,1289 Q906,1293 906,1284 L906,1180 Q906,1171 916,1166 Z" fill="#262626"/>
<path d="M917,1168.5 L1284,985.5 Q1292.5,981 1292.5,991 L1292.5,1088 Q1292.5,1093.5 1285,1097.5 L915,1288 Q908.5,1291 908.5,1283 L908.5,1180 Q908.5,1173 917,1168.5 Z" fill="url(#ptplate)"/>
<path d="M991,1249.5 L1290,1099 L1420,1036 L1441,1035 L1015,1255.5 L996,1253.5 Z" fill="#f2f2f2"/>
<path d="M909,1216 L1000,1254 L1000,1283 L909,1244 Z" fill="url(#ptbracket)"/>
<path d="M918,1221 L997,1256" stroke="#8e8e8e" stroke-width="2"/>
<path d="M909,1216 L918,1219 L918,1248 L909,1244 Z" fill="#111"/>
<path d="M996,1253.5 C1004,1256.5 1008,1256.5 1015,1255.5 L1015,1283.3 C1008,1284.5 1003,1284.5 997,1282.4 Z" fill="url(#ptcorner)"/>
<path d="M1015,1256.5 L1300,1111 L1441,1036.5 L1441,1064 L1300,1139.5 L1015,1283.3 Z" fill="url(#ptbar)"/>
<path d="M1000,1255 L1300,1110 L1441,1036" fill="none" stroke="#111" stroke-width="2"/>
<path d="M1015,1283.3 L1300,1139.5 L1441,1064" fill="none" stroke="#555" stroke-width="1"/>
<path d="M1410,1043 Q1402,1024 1416,1021 L1438,1030 Q1443,1034 1441,1037 L1421,1048 Z" fill="#333"/>
<path d="M896.4,1148.4 L914.3,1148.5 Q906.3,1143.6 907.2,1134.2 Z" fill="#000"/>
<path d="M1281.0,960.0 L1270.2,974.2 Q1271.1,964.8 1263.1,959.9 Z" fill="#000"/>
<line x1="903.6" y1="1144.9" x2="1073.3" y2="1061.7" stroke="#000" stroke-width="2.6"/>
<line x1="1142.5" y1="1027.8" x2="1273.8" y2="963.5" stroke="#000" stroke-width="2.6"/>
<text x="0" y="0" transform="translate(1107.9,1044.8) rotate(-26.10)" class="dim" font-size="25" text-anchor="middle" dominant-baseline="central">9.8&#8242;&#8242;</text>
<path d="M878.2,1176.7 L870.2,1191.7 Q878.2,1186.7 886.2,1191.7 Z" fill="#000"/>
<path d="M878.2,1290 L870.2,1275 Q878.2,1280 886.2,1275 Z" fill="#000"/>
<line x1="878.2" y1="1184.7" x2="878.2" y2="1201" stroke="#000" stroke-width="2.6"/>
<line x1="878.2" y1="1268" x2="878.2" y2="1282" stroke="#000" stroke-width="2.6"/>
<text x="0" y="0" transform="translate(878.2,1234.5) rotate(90)" class="dim" font-size="25" text-anchor="middle" dominant-baseline="central">2.3&#8242;&#8242;</text>
<text x="123.5" y="522.5" class="lbl" textLength="441" lengthAdjust="spacingAndGlyphs">Small Magnetic Shelf</text>
<text x="870.5" y="522.2" class="lbl" textLength="493" lengthAdjust="spacingAndGlyphs">Medium Magnetic Shelf</text>
<text x="123.5" y="1022.5" class="lbl" textLength="443.5" lengthAdjust="spacingAndGlyphs">Large Magnetic Shelf</text>
<text x="872" y="916" class="lbl" textLength="484.5" lengthAdjust="spacingAndGlyphs">Kitchen Utensil Hanger</text>
<text x="121.5" y="1407" class="lbl" textLength="443.5" lengthAdjust="spacingAndGlyphs">Multifunctional Hook</text>
<text x="872.5" y="1376.5" class="lbl" textLength="411.5" lengthAdjust="spacingAndGlyphs">Paper Towel Holder</text>
</svg>
</body></html>
